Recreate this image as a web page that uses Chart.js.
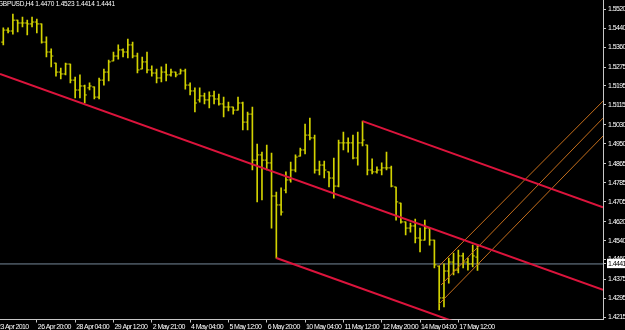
<!DOCTYPE html>
<html><head><meta charset="utf-8">
<script src="https://cdn.jsdelivr.net/npm/chart.js@4.4.0/dist/chart.umd.min.js"></script>
<style>html,body{margin:0;padding:0;background:#000;overflow:hidden}canvas{display:block}</style>
</head><body>
<canvas id="c" width="625" height="330"></canvas>
<script>
// ---------- DATA (GBPUSD H4, 100 bars, index 0 = 23 Apr 2010 16:00) ----------
const headerText = 'GBPUSD,H4 1.4470 1.4523 1.4414 1.4441';
const bidPrice = 1.4441;

const opens = [
 1.5381,1.5432,1.5428,1.5474,1.5462,1.5462,1.5458,1.5466,1.5458,1.5381,
 1.5339,1.5292,1.5254,1.5246,1.5288,1.5220,1.5178,1.5195,1.5187,1.5191,
 1.5148,1.5220,1.5254,1.5301,1.5322,1.5348,1.5339,1.5369,1.5322,1.5267,
 1.5297,1.5263,1.5250,1.5229,1.5254,1.5242,1.5254,1.5246,1.5259,1.5199,
 1.5174,1.5136,1.5153,1.5136,1.5153,1.5140,1.5119,1.5106,1.5106,1.5093,
 1.5123,1.5042,1.5076,1.4881,1.4903,1.4881,1.4869,1.4729,1.4691,1.4754,
 1.4797,1.4839,1.4898,1.4924,1.4987,1.4975,1.4839,1.4860,1.4831,1.4805,
 1.4771,1.4954,1.4954,1.4954,1.4890,1.4954,1.4945,1.4839,1.4831,1.4839,
 1.4848,1.4848,1.4767,1.4699,1.4619,1.4593,1.4602,1.4551,1.4542,1.4593,
 1.4542,1.4432,1.4297,1.4411,1.4449,1.4415,1.4475,1.4449,1.4441,1.4470];
const highs = [
 1.5441,1.5441,1.5500,1.5474,1.5487,1.5474,1.5487,1.5479,1.5458,1.5403,
 1.5352,1.5292,1.5271,1.5292,1.5288,1.5233,1.5242,1.5199,1.5208,1.5191,
 1.5229,1.5267,1.5305,1.5339,1.5369,1.5352,1.5394,1.5381,1.5335,1.5318,
 1.5339,1.5280,1.5267,1.5276,1.5288,1.5267,1.5254,1.5267,1.5267,1.5208,
 1.5187,1.5187,1.5165,1.5170,1.5174,1.5161,1.5148,1.5127,1.5106,1.5148,
 1.5127,1.5085,1.5106,1.4949,1.4915,1.4945,1.4911,1.4746,1.4763,1.4831,
 1.4873,1.4903,1.4932,1.5034,1.5059,1.4987,1.4877,1.4877,1.4831,1.4890,
 1.4966,1.5000,1.4975,1.4987,1.5000,1.5046,1.4945,1.4886,1.4852,1.4869,
 1.4915,1.4856,1.4767,1.4699,1.4619,1.4614,1.4631,1.4593,1.4627,1.4593,
 1.4542,1.4432,1.4441,1.4466,1.4487,1.4500,1.4487,1.4466,1.4521,1.4523];
const lows = [
 1.5369,1.5420,1.5415,1.5424,1.5445,1.5411,1.5445,1.5420,1.5377,1.5318,
 1.5276,1.5237,1.5225,1.5242,1.5208,1.5144,1.5144,1.5123,1.5178,1.5140,
 1.5140,1.5199,1.5216,1.5301,1.5309,1.5318,1.5314,1.5314,1.5250,1.5267,
 1.5250,1.5237,1.5208,1.5212,1.5216,1.5237,1.5233,1.5246,1.5182,1.5157,
 1.5085,1.5127,1.5119,1.5102,1.5119,1.5114,1.5064,1.5089,1.5076,1.5093,
 1.5009,1.5009,1.4839,1.4704,1.4712,1.4839,1.4593,1.4466,1.4648,1.4742,
 1.4788,1.4831,1.4898,1.4907,1.4966,1.4826,1.4818,1.4805,1.4767,1.4720,
 1.4767,1.4924,1.4915,1.4886,1.4860,1.4941,1.4818,1.4822,1.4826,1.4818,
 1.4839,1.4767,1.4627,1.4614,1.4564,1.4576,1.4530,1.4492,1.4542,1.4521,
 1.4424,1.4246,1.4259,1.4360,1.4394,1.4403,1.4424,1.4415,1.4428,1.4414];
const closes = [
 1.5432,1.5428,1.5474,1.5462,1.5462,1.5458,1.5466,1.5458,1.5381,1.5339,
 1.5322,1.5254,1.5246,1.5288,1.5220,1.5178,1.5195,1.5157,1.5195,1.5148,
 1.5220,1.5254,1.5297,1.5322,1.5348,1.5339,1.5369,1.5322,1.5263,1.5297,
 1.5263,1.5250,1.5229,1.5254,1.5242,1.5254,1.5242,1.5259,1.5199,1.5174,
 1.5123,1.5153,1.5136,1.5153,1.5140,1.5119,1.5106,1.5106,1.5093,1.5123,
 1.5042,1.5076,1.4881,1.4903,1.4881,1.4869,1.4729,1.4691,1.4661,1.4797,
 1.4839,1.4894,1.4924,1.4987,1.4975,1.4839,1.4860,1.4839,1.4805,1.4771,
 1.4954,1.4954,1.4954,1.4890,1.4954,1.4966,1.4839,1.4831,1.4839,1.4848,
 1.4848,1.4771,1.4704,1.4619,1.4593,1.4602,1.4551,1.4542,1.4593,1.4542,
 1.4437,1.4297,1.4411,1.4449,1.4415,1.4475,1.4449,1.4441,1.4475,1.4441];

// time axis labels (bar index where each label sits)
const xTickBars   = [-1.5, 7, 15, 23, 31, 39, 47, 55, 63, 71, 79, 87, 95];
const xTickLabels = ['23 Apr 2010','26 Apr 20:00','28 Apr 04:00','29 Apr 12:00','2 May 21:00','4 May 04:00',
                     '5 May 12:00','6 May 20:00','10 May 04:00','11 May 12:00','12 May 20:00','14 May 04:00','17 May 12:00'];
// price axis labels
const yTickValues = [1.5520,1.5440,1.5360,1.5275,1.5195,1.5115,1.5030,1.4950,1.4865,1.4785,
                     1.4705,1.4620,1.4540,1.4460,1.4375,1.4295,1.4215];

// visible window
const xMin = -0.69, xMax = 125.2;
const yMin = 1.42056, yMax = 1.55594;

// drawn objects: [barIndex, price] end points
const pitchforkMedian = [[-0.69, 1.5246], [125.2, 1.4331]];
const pitchforkUpper  = [[75, 1.5046], [125.2, 1.4681]];
const pitchforkLower  = [[57, 1.4466], [130, 1.3936]];
const channelTop      = [[90.96, 1.4432], [125.2, 1.5131]];
const channelMid      = [[91.4, 1.4352], [125.2, 1.5059]];
const channelBottom   = [[90.96, 1.4271], [125.2, 1.4983]];

// ---------- STYLE ----------
const barColor = '#d2d200';
const redColor = '#dc143c';
const orangeColor = '#c46e1c';
const bidColor = '#778899';
const axisColor = '#c8c8c8';
const fontFamily = "'Liberation Sans',Arial,sans-serif";
const tickShift = 0.22;

const idx = highs.map((_, i) => i);
const toPts = arr => arr.map(p => ({x: p[0], y: p[1]}));
const lineDs = (pts, color, w, order) => ({
  type: 'line', data: toPts(pts), borderColor: color, borderWidth: w,
  pointRadius: 0, fill: false, tension: 0, order
});

const textPlugin = {
  id: 'textStyle',
  beforeDraw(chart) { chart.ctx.letterSpacing = '-0.6px'; },
  afterDraw(chart) {
    const c = chart.ctx;
    c.save();
    c.letterSpacing = '-0.2px';
    c.font = "6.5px " + fontFamily;
    c.fillStyle = '#ffffff';
    c.textBaseline = 'top';
    c.fillText(headerText, -2, 1);
    c.restore();
  }
};

new Chart(document.getElementById('c'), {
  type: 'bar',
  data: {
    datasets: [
      lineDs(pitchforkMedian, redColor, 2, 0),
      lineDs(pitchforkUpper, redColor, 2, 0),
      lineDs(pitchforkLower, redColor, 2, 0),
      lineDs(channelTop, orangeColor, 1, 1),
      lineDs(channelMid, orangeColor, 1, 1),
      lineDs(channelBottom, orangeColor, 1, 1),
      {
        type: 'line', showLine: false, order: 2,
        data: idx.map(i => ({x: i - tickShift, y: opens[i]})),
        pointStyle: 'line', pointRadius: 1.1, pointBorderWidth: 1,
        pointBorderColor: barColor, pointBackgroundColor: barColor
      },
      {
        type: 'line', showLine: false, order: 2,
        data: idx.map(i => ({x: i + tickShift, y: closes[i]})),
        pointStyle: 'line', pointRadius: 1.1, pointBorderWidth: 1,
        pointBorderColor: barColor, pointBackgroundColor: barColor
      },
      {
        type: 'bar', order: 2, grouped: false,
        data: idx.map(i => ({x: i, y: [lows[i], highs[i]]})),
        backgroundColor: barColor, borderWidth: 0, barThickness: 1
      },
      lineDs([[xMin, bidPrice], [xMax, bidPrice]], bidColor, 1, 3)
    ]
  },
  options: {
    responsive: false,
    animation: false,
    devicePixelRatio: 1,
    events: [],
    layout: { padding: 0, autoPadding: false },
    plugins: { legend: { display: false }, tooltip: { enabled: false } },
    scales: {
      x: {
        type: 'linear', min: xMin, max: xMax, offset: false,
        grid: { display: true, drawOnChartArea: false, drawTicks: true, tickLength: 3, color: axisColor, offset: false },
        border: { display: true, color: axisColor, width: 1 },
        ticks: {
          autoSkip: false, maxRotation: 0, minRotation: 0, align: 'start', labelOffset: 1, padding: 0,
          color: '#ffffff', font: { family: fontFamily, size: 7 },
          callback: (v, i) => xTickLabels[i]
        },
        afterBuildTicks: s => { s.ticks = xTickBars.map(v => ({value: v})); },
        afterFit: s => { s.height = 10.5; s.paddingLeft = 0; s.paddingRight = 0; s.paddingTop = 0; s.paddingBottom = 0; }
      },
      y: {
        type: 'linear', position: 'right', min: yMin, max: yMax,
        grid: { display: true, drawOnChartArea: false, drawTicks: true, tickLength: 3, color: axisColor },
        border: { display: true, color: axisColor, width: 1 },
        ticks: {
          autoSkip: false, padding: 2,
          color: ctx => (ctx.tick && ctx.tick.value === bidPrice) ? '#000000' : '#ffffff',
          showLabelBackdrop: ctx => !!(ctx.tick && ctx.tick.value === bidPrice),
          backdropColor: '#ffffff',
          backdropPadding: { top: 1, bottom: 0, left: 1, right: 0 },
          font: { family: fontFamily, size: 7 },
          callback: v => Number(v).toFixed(4)
        },
        afterBuildTicks: s => { s.ticks = yTickValues.concat([bidPrice]).map(v => ({value: v})); },
        afterFit: s => { s.width = 22; s.paddingLeft = 0; s.paddingRight = 0; s.paddingTop = 0; s.paddingBottom = 0; }
      }
    }
  },
  plugins: [textPlugin]
});
</script>
</body></html>
